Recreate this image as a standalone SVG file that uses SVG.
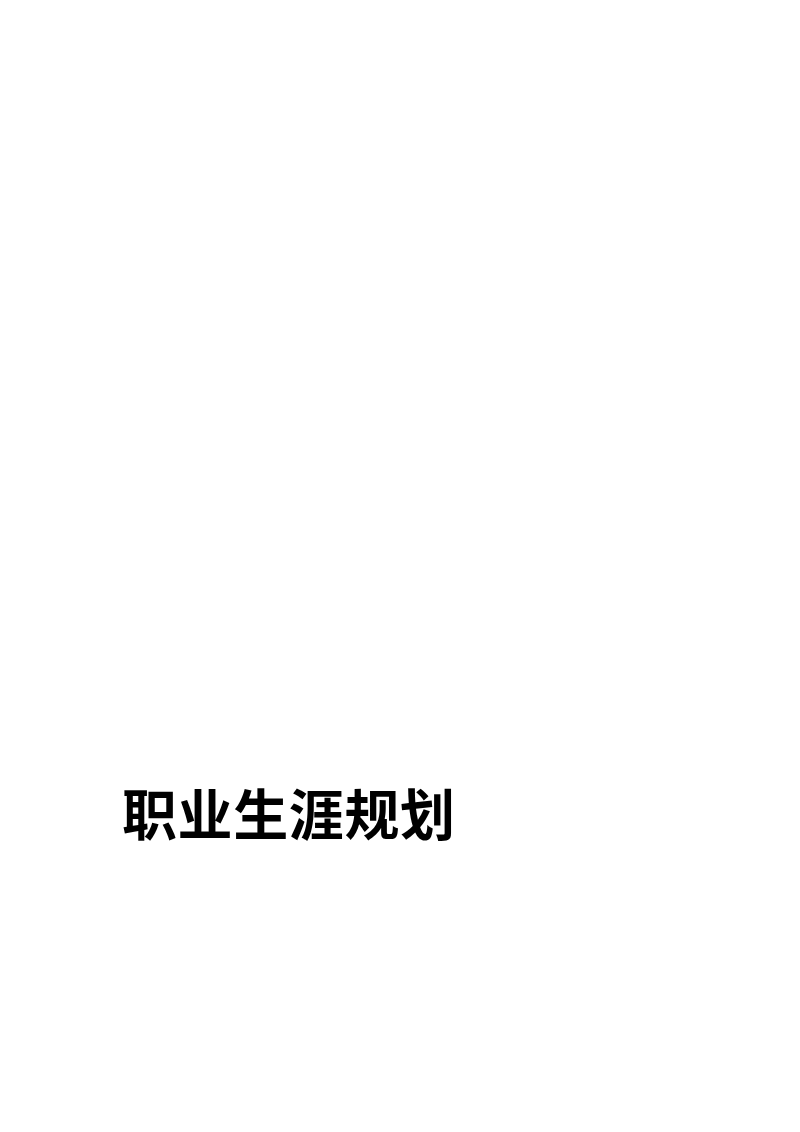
<svg xmlns="http://www.w3.org/2000/svg" width="800" height="1132" viewBox="0 0 800 1132"><style>.t{font-family:"Noto Sans CJK SC","Noto Sans",sans-serif;font-weight:bold;font-size:55px;fill:#000}</style><rect width="800" height="1132" fill="#fff"/><g id="title"><text class="t" x="122" y="835" textLength="333" lengthAdjust="spacing">职业生涯规划</text></g></svg>
